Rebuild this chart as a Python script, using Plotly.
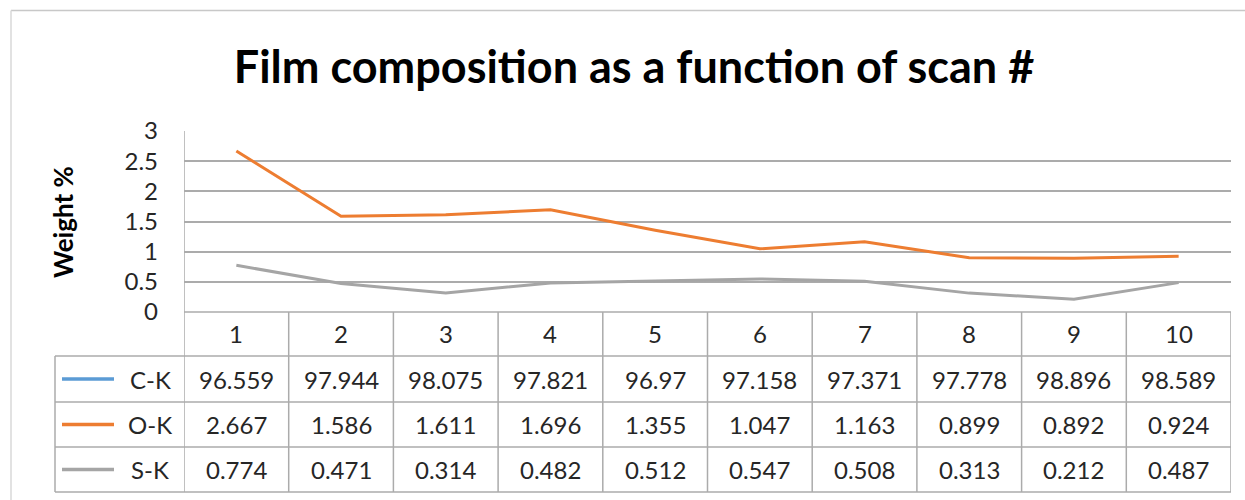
import plotly.graph_objects as go

W, H = 1245, 500

scans = [1, 2, 3, 4, 5, 6, 7, 8, 9, 10]
series_names = ["C-K", "O-K", "S-K"]
ck = [96.559, 97.944, 98.075, 97.821, 96.97, 97.158, 97.371, 97.778, 98.896, 98.589]
ok = [2.667, 1.586, 1.611, 1.696, 1.355, 1.047, 1.163, 0.899, 0.892, 0.924]
sk = [0.774, 0.471, 0.314, 0.482, 0.512, 0.547, 0.508, 0.313, 0.212, 0.487]
colors = ["#5B9BD5", "#ED7D31", "#A5A5A5"]
values = [ck, ok, sk]

FONT = "Lato"
GRID = "#ababab"
TXT = "#262626"
FS = 24

def py(p):
    return (H - p) / H

def px(p):
    return p / W

fig = go.Figure()
for name, vals, col in zip(series_names, values, colors):
    fig.add_trace(go.Scatter(x=scans, y=vals, mode="lines", name=name, hoverinfo="skip",
                             line=dict(color=col, width=3), cliponaxis=True))

shapes = []
annotations = []

# outer frame
shapes.append(dict(type="line", xref="paper", yref="paper", x0=px(11), x1=1, y0=py(10.5), y1=py(10.5),
                   line=dict(color="#c8c8c8", width=1.5)))
shapes.append(dict(type="line", xref="paper", yref="paper", x0=px(11), x1=px(11), y0=py(10.5), y1=0,
                   line=dict(color="#d9d9d9", width=1.5)))

# table verticals
for i in range(11):
    xv = i + 0.5
    top = 131 if i == 0 else 312
    shapes.append(dict(type="line", xref="x", yref="paper", x0=xv, x1=xv, y0=py(top), y1=py(492),
                       line=dict(color=GRID, width=1.5)))
shapes.append(dict(type="line", xref="paper", yref="paper", x0=px(55), x1=px(55), y0=py(356), y1=py(492),
                   line=dict(color=GRID, width=1.5)))
# table horizontals
shapes.append(dict(type="line", xref="x", yref="paper", x0=0.5, x1=10.5, y0=py(312), y1=py(312),
                   line=dict(color=GRID, width=1.5)))
for yy in [356, 402, 447, 492]:
    shapes.append(dict(type="line", xref="paper", yref="paper", x0=px(55), x1=px(1231),
                       y0=py(yy), y1=py(yy), line=dict(color=GRID, width=1.5)))

# header row (category labels)
for s in scans:
    annotations.append(dict(x=s, y=py(334), xref="x", yref="paper", text=str(s), showarrow=False,
                            font=dict(size=FS, color=TXT, family=FONT), xanchor="center", yanchor="middle"))

row_centers = [379, 424.5, 469.5]
for name, vals, col, rc in zip(series_names, values, colors, row_centers):
    shapes.append(dict(type="line", xref="paper", yref="paper", x0=px(62), x1=px(114), y0=py(rc), y1=py(rc),
                       line=dict(color=col, width=3.5)))
    annotations.append(dict(x=px(150), y=py(rc), xref="paper", yref="paper", text=name, showarrow=False,
                            font=dict(size=FS, color=TXT, family=FONT), xanchor="center", yanchor="middle"))
    for s, v in zip(scans, vals):
        annotations.append(dict(x=s, y=py(rc), xref="x", yref="paper", text=f"{v:g}", showarrow=False,
                                font=dict(size=FS, color=TXT, family=FONT), xanchor="center", yanchor="middle"))

# y axis title
annotations.append(dict(x=px(63), y=py(222), xref="paper", yref="paper", text="<b>Weight %</b>", textangle=-90,
                        showarrow=False, font=dict(size=26, color="#000000", family=FONT),
                        xanchor="center", yanchor="middle"))

fig.update_layout(
    width=W, height=H,
    margin=dict(l=0, r=0, t=0, b=0, pad=0, autoexpand=False),
    paper_bgcolor="white", plot_bgcolor="white",
    showlegend=False,
    title=dict(text="<b>Film composition as a function of scan #</b>", x=634 / W, xanchor="center",
               y=py(67), yanchor="middle", automargin=False,
               font=dict(size=45, color="#000000", family=FONT)),
    xaxis=dict(domain=[px(184), px(1231)], range=[0.5, 10.5], showticklabels=False, showgrid=False,
               zeroline=False, ticks="", automargin=False),
    yaxis=dict(domain=[py(312), py(131)], range=[0, 3], dtick=0.5, showgrid=True, gridcolor=GRID,
               gridwidth=1.5, zeroline=False, showline=False, ticks="", ticklabelstandoff=25,
               automargin=False, tickfont=dict(size=FS, color=TXT, family=FONT)),
    shapes=shapes,
    annotations=annotations,
)

fig.write_html(
    "out.html",
    config={"displayModeBar": False},
    post_script=(
        "document.documentElement.style.margin='0';"
        "document.body.style.margin='0';document.body.style.padding='0';"
        "document.body.style.overflow='hidden';"
    ),
)
